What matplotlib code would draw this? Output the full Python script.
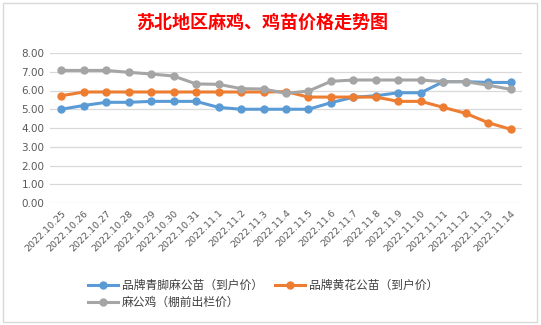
"""Subei chicken price trend chart
"""
import matplotlib.pyplot as plt
from matplotlib.patches import Rectangle

plt.rcParams['font.family'] = ['Noto Sans CJK SC', 'DejaVu Sans']

dates = ["2022.10.25", "2022.10.26", "2022.10.27", "2022.10.28", "2022.10.29",
         "2022.10.30", "2022.10.31", "2022.11.1", "2022.11.2", "2022.11.3",
         "2022.11.4", "2022.11.5", "2022.11.6", "2022.11.7", "2022.11.8",
         "2022.11.9", "2022.11.10", "2022.11.11", "2022.11.12", "2022.11.13",
         "2022.11.14"]
qingjiao = [5.0, 5.2, 5.37, 5.37, 5.42, 5.42, 5.42, 5.1, 5.0, 5.0,
            5.0, 5.0, 5.35, 5.64, 5.72, 5.88, 5.88, 6.47, 6.47, 6.43, 6.43]
huanghua = [5.72, 5.92, 5.92, 5.92, 5.92, 5.92, 5.92, 5.92, 5.92, 5.92,
            5.94, 5.65, 5.65, 5.65, 5.65, 5.42, 5.42, 5.1, 4.78, 4.28, 3.93]
magongji = [7.07, 7.07, 7.07, 6.97, 6.88, 6.77, 6.35, 6.33, 6.1, 6.08,
            5.85, 5.97, 6.49, 6.56, 6.56, 6.56, 6.56, 6.47, 6.47, 6.28, 6.06]
names = ["品牌青脚麻公苗（到户价）", "品牌黄花公苗（到户价）", "麻公鸡（棚前出栏价）"]
colors = ["#5B9BD5", "#ED7D31", "#A5A5A5"]
yticks = [0, 1, 2, 3, 4, 5, 6, 7, 8]

W, H = 541, 325
fig = plt.figure(figsize=(W / 100, H / 100), dpi=100)
fig.patches.append(Rectangle((3 / W, 3 / H), 534 / W, 319 / H, transform=fig.transFigure,
                             fill=False, edgecolor="#D9D9D9", lw=1))

ax = fig.add_axes([50 / W, (H - 203) / H, 472 / W, 150 / H])
xs = list(range(len(dates)))
handles = []
for vals, name, c in zip([qingjiao, huanghua, magongji], names, colors):
    h, = ax.plot(xs, vals, color=c, lw=2.2, marker="o", ms=5, label=name)
    handles.append(h)

ax.set_xlim(-0.5, len(dates) - 0.5)
ax.set_ylim(0, 8)
ax.set_yticks(yticks)
ax.set_yticklabels([f"{v:.2f}" for v in yticks], fontsize=7.5, color="#595959",
                   family="DejaVu Sans")
ax.set_xticks(xs)
ax.set_xticklabels(dates, rotation=45, ha="right", va="top", rotation_mode="anchor",
                   fontsize=6.8, color="#595959", family="DejaVu Sans")
ax.tick_params(length=0, pad=4)
ax.grid(axis="y", color="#D9D9D9", lw=0.9)
ax.set_axisbelow(True)
for s in ax.spines.values():
    s.set_visible(False)

fig.text(262 / W, 1 - 22 / H, "苏北地区麻鸡、鸡苗价格走势图", color="red",
         fontsize=13, fontweight="bold", ha="center", va="center")

fig.legend([handles[0], handles[2], handles[1]], [names[0], names[2], names[1]],
           ncol=2, loc="center", bbox_to_anchor=(263 / W, 1 - 294 / H), frameon=False,
           fontsize=8.5, handlelength=2.6, columnspacing=1.0, labelspacing=0.35,
           handletextpad=0.3, labelcolor="#404040")

fig.savefig("out.png", dpi=100)
